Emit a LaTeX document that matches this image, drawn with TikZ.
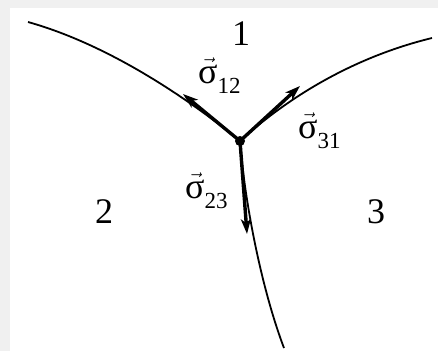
\documentclass[tikz,border=0pt]{standalone}
\usepackage{fontspec}
\setmainfont{Liberation Serif}
\usetikzlibrary{arrows.meta}
\tikzset{
  thin curve/.style={line width=1.8pt, black},
  vecline/.style={line width=3.4pt, black, -{Stealth[length=15pt,width=10pt,inset=4pt]}},
  bigdigit/.style={font=\fontsize{36}{36}\selectfont, inner sep=0pt, anchor=base},
  siglabel/.style={font=\fontsize{36}{36}\selectfont, inner sep=0pt, anchor=base west},
}
\newcommand{\sigvec}[1]{$\vec{\hbox{σ}}$\raisebox{-10pt}{\fontsize{23}{23}\selectfont #1}}
\begin{document}
\begin{tikzpicture}[x=1pt,y=-1pt]
\useasboundingbox (0,0) rectangle (438,351);
\fill[black!6] (0,0) rectangle (438,351);
\fill[white] (10,8) rectangle (438,351);
\coordinate (J) at (240,141);
\coordinate (L) at (28,22);
\coordinate (R) at (432,38);
\coordinate (B) at (284,348);
\coordinate (tL) at (183,94);
\coordinate (tR) at (300,86);
\coordinate (tB) at (247,234);
\draw[thin curve] (J) .. controls (190,100) and (110,45) .. (L);
\draw[thin curve] (J) .. controls (285,100) and (350,58) .. (R);
\draw[thin curve] (J) .. controls (245,205) and (262,290) .. (B);
\draw[vecline] (J) -- (tL);
\draw[vecline] (J) -- (tR);
\draw[vecline] (J) -- (tB);
\fill (J) circle (5pt);
\node[bigdigit] (n1) at (241,45) {1};
\node[bigdigit] (n2) at (104,223) {2};
\node[bigdigit] (n3) at (376,223) {3};
\node[siglabel] (s12) at (198,83) {\sigvec{12}};
\node[siglabel] (s31) at (298,138) {\sigvec{31}};
\node[siglabel] (s23) at (185,198) {\sigvec{23}};
\end{tikzpicture}
\end{document}
